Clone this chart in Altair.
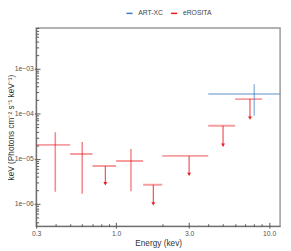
import altair as alt
import pandas as pd

# eROSITA bins (keV) and flux values
er_x = [0.4, 0.6, 0.85, 1.25, 1.75, 3.0, 5.0, 7.5]
er_xlo = [0.3, 0.5, 0.7, 1.0, 1.5, 2.0, 4.0, 6.0]
er_xhi = [0.5, 0.7, 1.0, 1.5, 2.0, 4.0, 6.0, 9.0]
er_y = [2.04e-5, 1.28e-5, 6.95e-6, 8.9e-6, 2.65e-6, 1.16e-5, 5.4e-5, 2.11e-4]
er_ylo = [1.85e-6, 1.67e-6, 2.8e-6, 1.9e-6, 1.0e-6, 4.5e-6, 2.0e-5, 8.0e-5]
er_yhi = [3.9e-5, 2.37e-5, 6.95e-6, 1.64e-5, 2.65e-6, 1.16e-5, 5.4e-5, 2.11e-4]
er_ul = [False, False, True, False, True, True, True, True]

# ART-XC
art_x = [8.0]
art_xlo = [4.0]
art_xhi = [12.0]
art_y = [2.75e-4]
art_ylo = [9.06e-5]
art_yhi = [4.5e-4]
art_ul = [False]

series = ["ART-XC", "eROSITA"]
colors = ["#3a7cc0", "#e8161b"]

x_major = [0.3, 1.0, 3.0, 10.0]
x_minor = [0.4, 0.5, 0.6, 0.7, 0.8, 0.9, 2.0, 4.0, 5.0, 6.0, 7.0, 8.0, 9.0]
y_major = [1e-6, 1e-5, 1e-4, 1e-3]
y_minor = [4e-7, 5e-7, 6e-7, 7e-7, 8e-7, 9e-7,
           2e-6, 3e-6, 4e-6, 5e-6, 6e-6, 7e-6, 8e-6, 9e-6,
           2e-5, 3e-5, 4e-5, 5e-5, 6e-5, 7e-5, 8e-5, 9e-5,
           2e-4, 3e-4, 4e-4, 5e-4, 6e-4, 7e-4, 8e-4, 9e-4,
           2e-3, 3e-3, 4e-3, 5e-3, 6e-3, 7e-3, 8e-3]

df = pd.concat([
    pd.DataFrame({"series": "ART-XC", "x": art_x, "xlo": art_xlo, "xhi": art_xhi,
                  "y": art_y, "ylo": art_ylo, "yhi": art_yhi, "ul": art_ul}),
    pd.DataFrame({"series": "eROSITA", "x": er_x, "xlo": er_xlo, "xhi": er_xhi,
                  "y": er_y, "ylo": er_ylo, "yhi": er_yhi, "ul": er_ul}),
], ignore_index=True)

xs = alt.Scale(type="log", domain=[0.3, 11.8], nice=False)
ys = alt.Scale(type="log", domain=[3.2e-7, 8e-3], nice=False)
cs = alt.Scale(domain=series, range=colors)

FONT = "Liberation Sans"
x_title = "Energy (kev)"
y_title = "keV (Photons  cm\u207b\u00b2 s\u207b\u00b9 keV\u207b\u00b9)"

x_axis = alt.Axis(values=x_major, format=".1f", tickSize=2, labelFontSize=7,
                  labelColor="#555", labelPadding=2, titleFontSize=8.5,
                  titleColor="#333", titleFontWeight="normal", titlePadding=2,
                  domainColor="#666", tickColor="#555", labelFlush=False)
y_axis = alt.Axis(values=y_major,
                  labelExpr="'1e\u22120' + format(-log(datum.value)/LN10, '.0f')",
                  tickSize=2, labelFontSize=7, labelColor="#555", labelPadding=1,
                  titleFontSize=8.5, titleColor="#333", titleFontWeight="normal",
                  titleX=-26, titleY=102, titleAlign="center",
                  titleBaseline="middle", titleAngle=270,
                  domainColor="#666", tickColor="#555")

X = lambda f: alt.X(f, type="quantitative", scale=xs, axis=x_axis, title=x_title)
Y = lambda f: alt.Y(f, type="quantitative", scale=ys, axis=y_axis, title=y_title)
C = alt.Color("series:N", scale=cs,
              legend=alt.Legend(title=None, orient="none", direction="horizontal",
                                legendX=92, legendY=-19, symbolType="stroke",
                                symbolSize=40, symbolStrokeWidth=1.5,
                                symbolOpacity=1, labelFontSize=7,
                                labelColor="#444", labelOffset=5,
                                columnPadding=4, padding=0))

base = alt.Chart(df)

hbar = base.mark_rule(strokeWidth=2, opacity=0.42, clip=True).encode(
    x=X("xlo"), x2="xhi", y=Y("y"), color=C)

vbar = base.transform_filter("!datum.ul").mark_rule(
    strokeWidth=1.6, opacity=0.5, clip=True).encode(
    x=X("x"), y=Y("ylo"), y2="yhi", color=C)

shaft = base.transform_filter("datum.ul").mark_rule(
    strokeWidth=1.2, opacity=0.75, clip=True).encode(
    x=X("x"), y=Y("y"), y2="ylo", color=C)

head = base.transform_filter("datum.ul").mark_point(
    shape="triangle-down", filled=True, size=16, opacity=0.95).encode(
    x=X("x"), y=Y("ylo"), color=C)

data_layer = alt.layer(hbar, vbar, shaft, head)

tick_style = dict(labels=False, domain=False, tickColor="#555", title=None, grid=False)

major_ticks = base.mark_point(opacity=0).encode(
    x=alt.X("x:Q", scale=xs, axis=alt.Axis(values=x_major, orient="bottom",
                                             tickSize=4, offset=-4, **tick_style)),
    y=alt.Y("y:Q", scale=ys, axis=alt.Axis(values=y_major, orient="left",
                                             tickSize=4, offset=-4, **tick_style)),
)
minor_ticks = base.mark_point(opacity=0).encode(
    x=alt.X("x:Q", scale=xs, axis=alt.Axis(values=x_minor, orient="bottom",
                                             tickSize=2.5, offset=-2.5, **tick_style)),
    y=alt.Y("y:Q", scale=ys, axis=alt.Axis(values=y_minor, orient="left",
                                             tickSize=2.5, offset=-2.5, **tick_style)),
)

chart = alt.layer(data_layer, major_ticks, minor_ticks).resolve_axis(
    x="independent", y="independent"
).properties(
    width=251, height=204,
    autosize=alt.AutoSizeParams(type="none"),
    padding={"left": 29, "top": 17, "right": 3, "bottom": 22},
).configure(font=FONT).configure_view(
    stroke="#999", strokeWidth=1.5
).configure_axis(grid=False)

chart.save("out.html", embed_options={"renderer": "svg", "actions": False})
